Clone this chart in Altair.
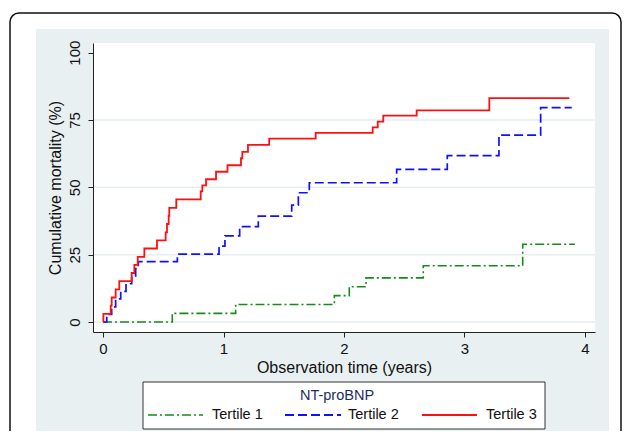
import altair as alt
import pandas as pd

# ---- data (Kaplan-Meier cumulative mortality, %) ----
series_names = ["Tertile 1", "Tertile 2", "Tertile 3"]

t1_time = [0, 0.575, 1.101, 1.920, 2.044, 2.183, 2.658, 3.483, 3.917]
t1_mort = [0, 3.2, 6.5, 9.8, 13.1, 16.4, 20.9, 28.9, 28.9]

t2_time = [0, 0.031, 0.072, 0.105, 0.147, 0.191, 0.238, 0.271, 0.293, 0.617,
           0.963, 1.012, 1.134, 1.289, 1.566, 1.621, 1.712, 2.437, 2.857, 3.286,
           3.632, 3.890]
t2_mort = [0, 2.8, 5.6, 8.6, 11.4, 14.2, 17.0, 19.8, 22.4, 25.2,
           28.2, 32.0, 35.4, 39.3, 43.4, 48.0, 51.7, 56.7, 61.8, 69.4,
           79.6, 79.6]

t3_time = [0, 0.003, 0.064, 0.072, 0.105, 0.135, 0.238, 0.260, 0.288, 0.343,
           0.448, 0.520, 0.531, 0.545, 0.550, 0.608, 0.811, 0.824, 0.855, 0.938,
           1.033, 1.145, 1.156, 1.203, 1.379, 1.765, 2.238, 2.280, 2.326, 2.603,
           3.206, 3.870]
t3_mort = [0, 3.0, 6.1, 9.1, 12.1, 15.2, 18.2, 21.2, 24.2, 27.3,
           30.3, 33.3, 36.4, 39.4, 42.4, 45.5, 48.5, 50.7, 53.0, 55.8,
           58.2, 60.8, 63.2, 65.8, 68.1, 70.2, 72.3, 74.4, 76.6, 78.6,
           83.1, 83.1]

x_ticks = [0, 1, 2, 3, 4]
y_ticks = [0, 25, 50, 75, 100]
grid_vals = [0, 25, 50, 75]

legend_title = "NT-proBNP"

# ---- build table ----
rows = []
for name, ts, ms in [(series_names[0], t1_time, t1_mort),
                     (series_names[1], t2_time, t2_mort),
                     (series_names[2], t3_time, t3_mort)]:
    for t, m in zip(ts, ms):
        rows.append({"series": name, "time": t, "mort": m})
df = pd.DataFrame(rows)

colors = ["#178a17", "#1010ff", "#ff1010"]
dashes = [[9, 3, 2, 3], [9, 4], [1, 0]]
widths = [1.6, 1.8, 1.8]

W, H = 502, 289
FONT = "Liberation Sans"
PANEL = "#e8f0f2"

one = pd.DataFrame({"k": [0]})

xscale = alt.Scale(domain=[-0.083, 4.083], nice=False, zero=False)
yscale = alt.Scale(domain=[-3.71, 103.6], nice=False, zero=False)

y_axis = alt.Axis(values=y_ticks, title="Cumulative mortality (%)",
                  grid=False, tickSize=5, labelPadding=6, titlePadding=4,
                  zindex=1, labelAngle=-90, labelAlign="center",
                  labelBaseline="bottom", labelFontSize=15, titleFontSize=16)
x_axis = alt.Axis(values=x_ticks, title="Observation time (years)",
                  grid=False, tickSize=5, labelPadding=4, titlePadding=3,
                  zindex=1, labelAngle=0, labelFontSize=15, titleFontSize=16)

outer = alt.Chart(one).mark_rect(
    fill="white", stroke="#111111", strokeWidth=1.5, cornerRadius=9
).encode(x=alt.value(-83), x2=alt.value(528), y=alt.value(-30), y2=alt.value(440))

panel = alt.Chart(one).mark_rect(fill=PANEL).encode(
    x=alt.value(-57), x2=alt.value(516), y=alt.value(-14), y2=alt.value(430))

plotbg = alt.Chart(one).mark_rect(fill="white").encode(
    x=alt.value(0), x2=alt.value(W), y=alt.value(0), y2=alt.value(H))

grid = alt.Chart(pd.DataFrame({"mort": grid_vals})).mark_rule(
    color="#e6eef0", strokeWidth=1.5
).encode(
    y=alt.Y("mort:Q", scale=yscale, axis=y_axis),
    x=alt.value(0), x2=alt.value(W))

lines = alt.Chart(df).mark_line(interpolate="step-after").encode(
    x=alt.X("time:Q", scale=xscale, axis=x_axis),
    y=alt.Y("mort:Q", scale=yscale, axis=y_axis),
    color=alt.Color("series:N", scale=alt.Scale(domain=series_names, range=colors), legend=None),
    strokeDash=alt.StrokeDash("series:N", scale=alt.Scale(domain=series_names, range=dashes), legend=None),
    strokeWidth=alt.StrokeWidth("series:N", scale=alt.Scale(domain=series_names, range=widths), legend=None),
    order=alt.Order("time:Q"),
)

# ---- manual legend (Stata-style box) ----
LY = 372
legbox = alt.Chart(one).mark_rect(fill="white", stroke="#333333", strokeWidth=1).encode(
    x=alt.value(50), x2=alt.value(452), y=alt.value(339), y2=alt.value(386))
legtitle = alt.Chart(one).mark_text(
    text=legend_title, font=FONT, fontSize=14.5, color="#1f2d5c", align="center", baseline="middle"
).encode(x=alt.value(244), y=alt.value(353))

leg_layers = []
sym_x = [(55, 110), (192, 248), (329, 384)]
lab_x = [119, 255, 393]
for i, name in enumerate(series_names):
    leg_layers.append(
        alt.Chart(one).mark_rule(color=colors[i], strokeDash=dashes[i], strokeWidth=widths[i]).encode(
            x=alt.value(sym_x[i][0]), x2=alt.value(sym_x[i][1]), y=alt.value(LY)))
    leg_layers.append(
        alt.Chart(one).mark_text(text=name, font=FONT, fontSize=14.5, color="#111111",
                                 align="left", baseline="middle").encode(
            x=alt.value(lab_x[i]), y=alt.value(LY)))

chart = alt.layer(
    outer, panel, plotbg, grid, lines, legbox, legtitle, *leg_layers
).properties(
    width=W, height=H,
    autosize=alt.AutoSizeParams(type="none"),
    padding={"left": 85, "top": 35, "right": 27, "bottom": 99},
    background="white",
).configure_view(stroke=None).configure_axis(
    labelFont=FONT, titleFont=FONT,
    labelColor="#111111", titleColor="#111111", titleFontWeight="normal",
    domainColor="#222222", tickColor="#222222", domainWidth=1, tickWidth=1,
)

chart.save("out.html", embed_options={"renderer": "svg", "actions": False})
